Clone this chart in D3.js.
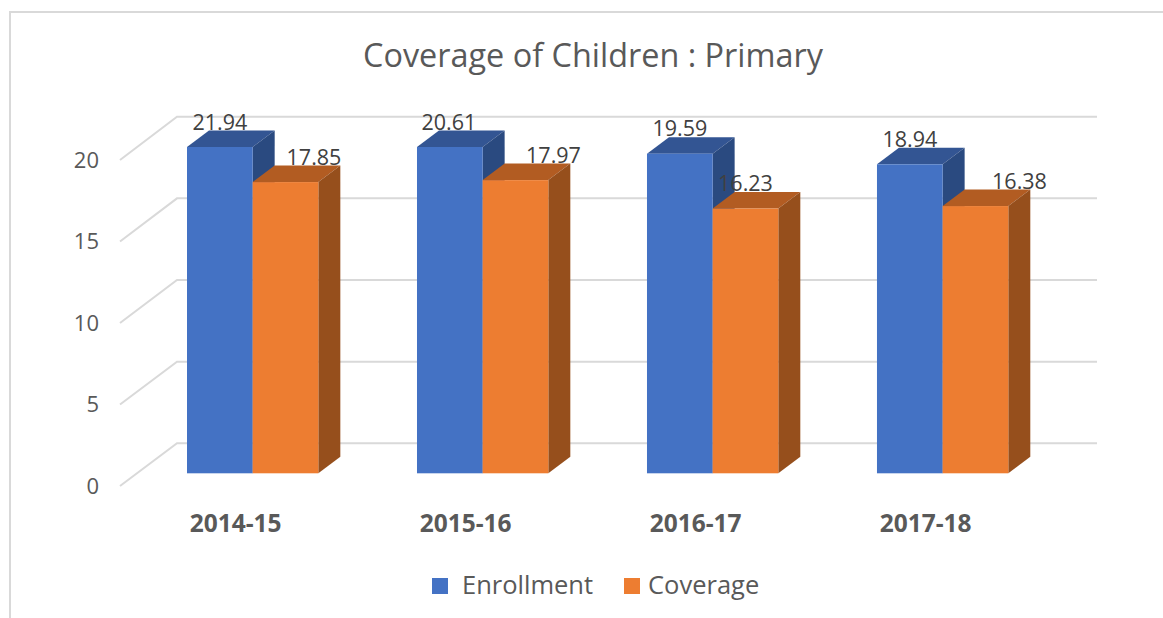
<!DOCTYPE html>
<html>
<head>
<meta charset="utf-8">
<title>Coverage of Children : Primary</title>
<script src="https://cdn.jsdelivr.net/npm/d3@7"></script>
<style>
	html, body { margin: 0; padding: 0; background: #fff; overflow: hidden; }
	svg { display: block; font-family: "Open Sans", sans-serif; }
</style>
</head>
<body>
<svg id="chart" width="1163" height="618"></svg>
<script>
// Values.
var years = ["2014-15", "2015-16", "2016-17", "2017-18"];
var seriesNames = ["Enrollment", "Coverage"];
var enrollment = [21.94, 20.61, 19.59, 18.94];
var coverage = [17.85, 17.97, 16.23, 16.38];
var yTicks = [0, 5, 10, 15, 20];

var seriesValues = [enrollment, coverage];
var faces = [
	{front: "#4472C4", top: "#335593", side: "#2A4A80"},
	{front: "#ED7D31", top: "#B25C22", side: "#964F1C"}
];

// Data labels were dragged by hand in the original, so they need a nudge.
var labelNudge = [[0, 28.5], [-1, 38], [0, 0], [0, 44]];

var svg = d3.select("#chart");

// Chart frame, only the top and left edges are in the shot.
svg.append("path")
	.attr("d", "M10,618V12H1163")
	.attr("fill", "none")
	.attr("stroke", "#d9d9d9")
	.attr("stroke-width", 2);

svg.append("text")
	.attr("x", 593)
	.attr("y", 67)
	.attr("text-anchor", "middle")
	.attr("font-size", 32.4)
	.attr("fill", "#595959")
	.text("Coverage of Children : Primary");

// Three scales for the same axis: front of the floor, bar front, back wall.
var yLabel = d3.scaleLinear().domain([0, 20]).range([486, 160]);
var yBar = d3.scaleLinear().domain([0, 20]).range([473.3, 147]).clamp(true);
var yWall = d3.scaleLinear().domain([0, 20]).range([443.3, 116.7]);

var x = d3.scaleBand().domain(years).range([187, 1008.3]).paddingInner(0.429);
var xSeries = d3.scaleBand().domain(seriesNames).range([0, x.bandwidth()]);

var depth = {x: 22, y: -16.5};

// Walls and gridlines
var grid = svg.append("g")
	.attr("fill", "none")
	.attr("stroke", "#d9d9d9")
	.attr("stroke-width", 2);

yTicks.forEach(function(t) {
	grid.append("path")
		.attr("d", "M120," + yLabel(t) + "L177," + yWall(t) + "H1097");
});

var yAxis = d3.axisLeft(yLabel).tickValues(yTicks).tickSize(0).tickPadding(0);
var axisG = svg.append("g")
	.attr("transform", "translate(99,0)")
	.call(yAxis);
axisG.select(".domain").remove();
axisG.selectAll("text")
	.attr("font-family", "Open Sans")
	.attr("font-size", 22)
	.attr("fill", "#595959");

// Bars, blue first since the orange top sits over the blue side
seriesNames.forEach(function(name, s) {
	var g = svg.append("g").attr("class", "series");
	years.forEach(function(year, i) {
		var x0 = x(year) + xSeries(name);
		var x1 = x0 + xSeries.bandwidth();
		var y0 = yBar(0);
		var y1 = yBar(seriesValues[s][i]);
		g.append("path")
			.attr("fill", faces[s].top)
			.attr("d", "M" + x0 + "," + y1 + "L" + (x0 + depth.x) + "," + (y1 + depth.y) + "H" + (x1 + depth.x) + "L" + x1 + "," + y1 + "Z");
		g.append("path")
			.attr("fill", faces[s].side)
			.attr("d", "M" + x1 + "," + y1 + "L" + (x1 + depth.x) + "," + (y1 + depth.y) + "V" + (y0 + depth.y) + "L" + x1 + "," + y0 + "Z");
		g.append("rect")
			.attr("x", x0)
			.attr("y", y1)
			.attr("width", x1 - x0)
			.attr("height", y0 - y1)
			.attr("fill", faces[s].front);
	});
});

// Data labels
seriesNames.forEach(function(name, s) {
	years.forEach(function(year, i) {
		svg.append("text")
			.attr("x", x(year) + xSeries(name) + xSeries.bandwidth() / 2 + labelNudge[i][s])
			.attr("y", yBar(seriesValues[s][i]) - 17.5)
			.attr("text-anchor", "middle")
			.attr("font-size", 21.5)
			.attr("fill", "#404040")
			.text(seriesValues[s][i].toFixed(2));
	});
});

// Category labels, they sit left of the group centre in the original
years.forEach(function(year) {
	svg.append("text")
		.attr("x", x(year) + x.bandwidth() / 2 - 17)
		.attr("y", 532)
		.attr("text-anchor", "middle")
		.attr("font-size", 24.5)
		.attr("font-weight", "bold")
		.attr("fill", "#595959")
		.text(year);
});

// Legend
var legendX = [432, 624];
var legendTextX = [462, 648];
seriesNames.forEach(function(name, s) {
	svg.append("rect")
		.attr("x", legendX[s])
		.attr("y", 578)
		.attr("width", 16)
		.attr("height", 16)
		.attr("fill", faces[s].front);
	svg.append("text")
		.attr("x", legendTextX[s])
		.attr("y", 594)
		.attr("font-size", 25.5)
		.attr("fill", "#595959")
		.text(name);
});
</script>
</body>
</html>
